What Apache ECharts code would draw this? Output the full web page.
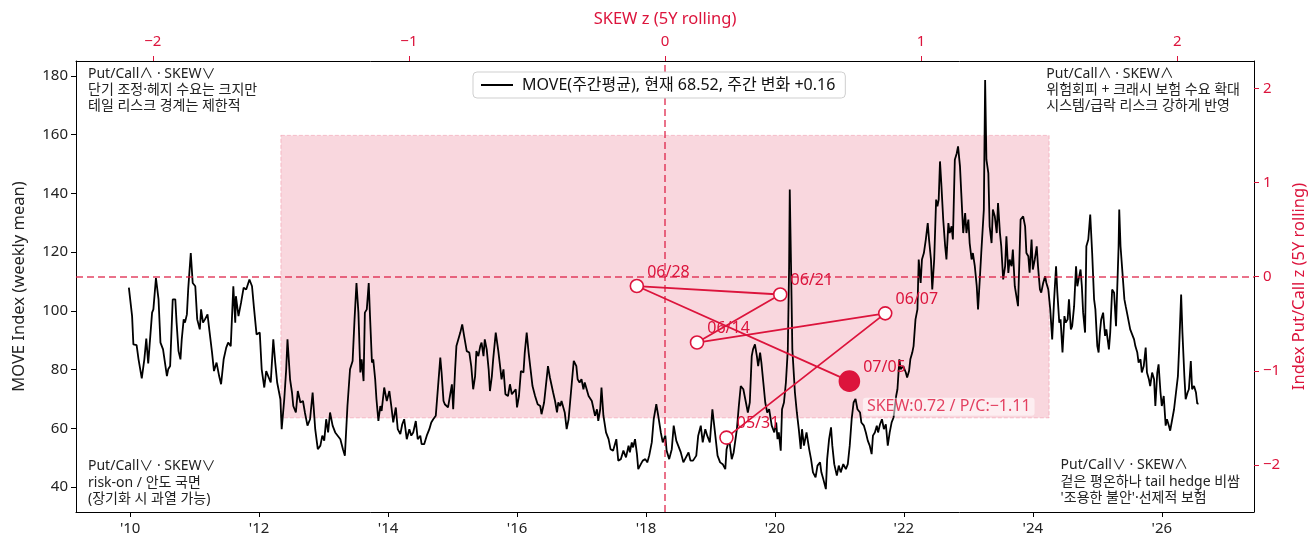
<!DOCTYPE html>
<html>
<head>
<meta charset="utf-8">
<script src="https://cdn.jsdelivr.net/npm/echarts@6.0.0/dist/echarts.min.js"></script>
<style>
  html, body { margin: 0; padding: 0; background: #fff; }
  #chart { width: 1314px; height: 540px; }
</style>
</head>
<body>
<div id="chart"></div>
<script>
// MOVE weekly mean (decimal year / value)
var moveYears = [
  2009.98, 2010.03, 2010.05, 2010.10, 2010.13, 2010.18, 2010.22, 2010.25, 2010.28, 2010.34,
  2010.36, 2010.40, 2010.44, 2010.47, 2010.51, 2010.57, 2010.59, 2010.62, 2010.66, 2010.70,
  2010.72, 2010.75, 2010.78, 2010.80, 2010.83, 2010.85, 2010.88, 2010.90, 2010.94, 2010.97,
  2011.01, 2011.04, 2011.08, 2011.10, 2011.13, 2011.16, 2011.20, 2011.23, 2011.27, 2011.30,
  2011.34, 2011.38, 2011.41, 2011.45, 2011.49, 2011.52, 2011.56, 2011.60, 2011.63, 2011.64,
  2011.68, 2011.72, 2011.76, 2011.80, 2011.85, 2011.89, 2011.92, 2011.96, 2012.01, 2012.04,
  2012.08, 2012.11, 2012.14, 2012.18, 2012.22, 2012.25, 2012.28, 2012.33, 2012.35, 2012.39,
  2012.42, 2012.44, 2012.48, 2012.51, 2012.53, 2012.57, 2012.60, 2012.64, 2012.68, 2012.71,
  2012.75, 2012.79, 2012.83, 2012.87, 2012.91, 2012.95, 2012.98, 2013.01, 2013.04, 2013.07,
  2013.10, 2013.14, 2013.18, 2013.21, 2013.26, 2013.30, 2013.33,
  2013.37, 2013.41, 2013.45, 2013.48, 2013.51, 2013.54, 2013.57, 2013.59, 2013.62, 2013.64,
  2013.67, 2013.70, 2013.72, 2013.75, 2013.77, 2013.80, 2013.82, 2013.85, 2013.88, 2013.90,
  2013.94, 2013.98, 2014.02, 2014.05, 2014.08, 2014.12, 2014.15, 2014.19, 2014.22, 2014.25,
  2014.29, 2014.33, 2014.36, 2014.39, 2014.43, 2014.46, 2014.50, 2014.52, 2014.56, 2014.60,
  2014.64, 2014.67, 2014.70, 2014.74, 2014.77, 2014.81, 2014.83, 2014.86, 2014.88, 2014.93,
  2014.96, 2014.99, 2015.01, 2015.04, 2015.06, 2015.09, 2015.12, 2015.15, 2015.18, 2015.22,
  2015.26, 2015.29, 2015.32, 2015.35, 2015.37, 2015.40, 2015.43, 2015.45, 2015.48, 2015.50,
  2015.53, 2015.56, 2015.58, 2015.61, 2015.63, 2015.67, 2015.71, 2015.74, 2015.76, 2015.79,
  2015.82, 2015.86, 2015.89, 2015.92, 2015.95, 2015.98, 2016.00, 2016.03, 2016.06, 2016.10,
  2016.12, 2016.15, 2016.18, 2016.21, 2016.24, 2016.28, 2016.32, 2016.36, 2016.38, 2016.42,
  2016.44, 2016.48, 2016.51, 2016.54, 2016.56, 2016.59, 2016.62, 2016.64, 2016.67, 2016.69,
  2016.72, 2016.74, 2016.77, 2016.80, 2016.82,
  2016.85, 2016.88, 2016.92, 2016.94, 2016.97, 2017.00, 2017.03, 2017.05, 2017.08, 2017.11,
  2017.13, 2017.16, 2017.18, 2017.21, 2017.24, 2017.26, 2017.29, 2017.31, 2017.34, 2017.38,
  2017.42, 2017.45, 2017.49, 2017.54, 2017.57, 2017.61, 2017.65, 2017.69, 2017.73, 2017.75,
  2017.78, 2017.80, 2017.83, 2017.86, 2017.88, 2017.92, 2017.95, 2017.99, 2018.02, 2018.05,
  2018.09, 2018.12, 2018.16, 2018.19, 2018.23, 2018.26, 2018.30, 2018.32, 2018.36, 2018.40,
  2018.43, 2018.47, 2018.50, 2018.54, 2018.58, 2018.62, 2018.66, 2018.69, 2018.73, 2018.78,
  2018.81, 2018.85, 2018.88, 2018.92, 2018.95, 2018.99, 2019.03, 2019.07, 2019.11, 2019.15,
  2019.19, 2019.23, 2019.25, 2019.29, 2019.33, 2019.36, 2019.41, 2019.44, 2019.47, 2019.51,
  2019.55, 2019.58, 2019.61, 2019.64, 2019.66, 2019.69, 2019.72, 2019.74, 2019.77, 2019.79,
  2019.82, 2019.85, 2019.88, 2019.91, 2019.95, 2019.99, 2020.02, 2020.04, 2020.06, 2020.09,
  2020.11, 2020.14, 2020.17, 2020.20, 2020.22, 2020.23, 2020.25, 2020.27,
  2020.31, 2020.34, 2020.37, 2020.40, 2020.42, 2020.45, 2020.49, 2020.53, 2020.56, 2020.59,
  2020.63, 2020.66, 2020.70, 2020.72, 2020.75, 2020.79, 2020.81, 2020.84, 2020.87, 2020.89,
  2020.92, 2020.96, 2020.99, 2021.02, 2021.06, 2021.10, 2021.13, 2021.16, 2021.19, 2021.22,
  2021.25, 2021.28, 2021.32, 2021.34, 2021.38, 2021.41, 2021.44, 2021.47, 2021.50, 2021.52,
  2021.55, 2021.58, 2021.60, 2021.63, 2021.66, 2021.69, 2021.72, 2021.75, 2021.78, 2021.81,
  2021.84, 2021.88, 2021.90, 2021.93, 2021.95, 2021.99, 2022.03, 2022.05, 2022.08, 2022.10,
  2022.13, 2022.15, 2022.18, 2022.21, 2022.23, 2022.26, 2022.28, 2022.31, 2022.34, 2022.37,
  2022.39, 2022.42, 2022.44, 2022.47, 2022.50, 2022.52, 2022.54, 2022.56, 2022.58, 2022.61,
  2022.64, 2022.66, 2022.69, 2022.71, 2022.74, 2022.76, 2022.79, 2022.82, 2022.84, 2022.87,
  2022.89, 2022.92, 2022.95, 2022.97, 2023.00, 2023.02, 2023.05, 2023.07, 2023.10, 2023.13,
  2023.15, 2023.18, 2023.20, 2023.24, 2023.26, 2023.28, 2023.31, 2023.33, 2023.36, 2023.38,
  2023.41, 2023.44, 2023.46, 2023.49, 2023.51, 2023.54, 2023.57, 2023.59, 2023.62, 2023.64,
  2023.67, 2023.69, 2023.72, 2023.75, 2023.77,
  2023.81, 2023.85, 2023.88, 2023.90, 2023.93, 2023.95, 2023.98, 2024.00, 2024.03, 2024.06,
  2024.08, 2024.11, 2024.13, 2024.16, 2024.19, 2024.21, 2024.24, 2024.27, 2024.30, 2024.33,
  2024.36, 2024.38, 2024.41, 2024.43, 2024.46, 2024.49, 2024.51, 2024.54, 2024.56, 2024.59,
  2024.61, 2024.64, 2024.67, 2024.69, 2024.71, 2024.74, 2024.76, 2024.78, 2024.81, 2024.83,
  2024.86, 2024.89, 2024.92, 2024.95, 2024.97, 2025.00, 2025.02, 2025.04, 2025.06, 2025.09,
  2025.12, 2025.14, 2025.16, 2025.18, 2025.20, 2025.23, 2025.26, 2025.29, 2025.31, 2025.33,
  2025.34, 2025.36, 2025.39, 2025.42, 2025.44, 2025.46, 2025.49, 2025.51, 2025.54, 2025.57,
  2025.59, 2025.62, 2025.64, 2025.67, 2025.69, 2025.72, 2025.75, 2025.77, 2025.80, 2025.82,
  2025.85, 2025.88, 2025.90, 2025.93, 2025.95, 2025.98, 2026.00, 2026.03, 2026.06, 2026.08,
  2026.11, 2026.13, 2026.16, 2026.19, 2026.22, 2026.25, 2026.27, 2026.30, 2026.32, 2026.35,
  2026.37, 2026.40, 2026.42, 2026.45, 2026.47, 2026.50, 2026.53, 2026.55, 2026.57
]
var moveValues = [
  107.9, 98.2, 88.6, 88.3, 83.5, 77.0, 83.5, 90.6, 82.1, 99.4,
  100.5, 111.2, 103.9, 89.2, 86.9, 77.8, 80.1, 81.2, 103.9, 103.9,
  96.0, 86.3, 83.5, 90.3, 97.1, 96.0, 98.8, 107.3, 119.7, 109.5,
  108.4, 97.1, 93.7, 100.5, 96.0, 97.1, 98.8, 93.1, 85.8, 79.5,
  82.4, 77.8, 75.0, 83.5, 87.5, 89.2, 88.0, 108.4, 96.0, 105.0,
  98.2, 102.8, 107.9, 107.3, 110.7, 108.4, 101.1, 92.0, 92.6, 80.1,
  73.9, 79.5, 79.0, 75.6, 90.3, 82.4, 75.6, 69.9, 59.7, 69.9,
  80.1, 90.3, 76.7, 72.2, 67.6, 65.4, 72.7, 68.8, 69.3, 65.4,
  60.9, 63.1, 72.2, 59.7, 52.9, 54.1, 57.5, 55.8, 63.1, 58.6,
  65.4, 60.9, 58.6, 58.0, 56.3, 52.9, 50.7,
  67.6, 80.1, 82.9, 97.1, 109.5, 99.4, 79.0, 83.5, 76.1, 99.4,
  100.5, 109.5, 98.2, 82.4, 83.5, 76.7, 69.9, 62.5, 67.6, 65.9,
  73.9, 69.3, 72.7, 67.6, 62.0, 67.1, 59.7, 58.0, 61.4, 63.1,
  56.3, 59.7, 57.5, 58.6, 62.5, 56.3, 57.5, 54.6, 54.6, 57.5,
  59.7, 62.0, 63.1, 64.3, 64.3, 84.1, 79.0, 69.3, 68.2, 67.1,
  66.5, 75.0, 66.5, 80.1, 88.0, 88.0, 92.6, 95.4, 91.4, 86.3,
  85.8, 81.2, 73.3, 77.8, 86.3, 84.6, 88.0, 89.2, 84.6, 90.3,
  86.9, 80.1, 72.7, 77.8, 83.5, 92.6, 86.3, 80.7, 76.7, 80.1,
  71.6, 71.0, 75.0, 71.6, 72.2, 73.3, 67.1, 71.0, 79.5, 79.0,
  85.8, 92.6, 85.8, 80.1, 74.4, 71.0, 68.2, 67.6, 64.8, 68.8,
  69.3, 81.2, 77.3, 76.7, 72.2, 69.3, 65.4, 68.8, 67.6, 69.3,
  69.9, 65.4, 59.7, 63.1, 63.7,
  75.6, 83.0, 81.2, 76.7, 75.6, 76.7, 73.3, 75.6, 73.3, 71.0,
  70.5, 69.3, 68.8, 64.3, 66.5, 62.5, 66.5, 73.9, 64.3, 58.6,
  56.3, 52.9, 52.4, 56.3, 49.0, 49.5, 52.4, 50.1, 54.1, 51.8,
  55.2, 53.5, 56.3, 51.2, 46.1, 47.8, 49.0, 49.5, 48.4, 50.7,
  55.2, 63.1, 68.2, 64.3, 58.6, 55.2, 57.5, 52.4, 49.5, 52.9,
  60.9, 55.8, 54.1, 51.8, 48.4, 50.1, 51.8, 49.0, 49.0, 50.7,
  57.5, 60.9, 55.2, 59.7, 57.5, 55.2, 66.5, 58.6, 50.7, 48.4,
  47.8, 46.1, 52.9, 56.3, 49.5, 51.8, 59.7, 67.6, 74.4, 73.3,
  68.8, 65.4, 68.8, 84.6, 86.9, 88.6, 84.6, 81.2, 85.8, 82.4,
  75.6, 68.8, 65.4, 66.5, 60.9, 58.6, 62.0, 56.3, 58.6, 52.4,
  66.5, 68.8, 75.6, 86.9, 115.2, 141.3, 115.2, 86.9,
  72.2, 65.4, 59.7, 53.0, 59.7, 54.1, 58.6, 53.0, 49.5, 45.0,
  43.3, 47.3, 48.4, 45.0, 42.7, 39.3, 49.5, 56.3, 60.3, 54.1,
  47.8, 43.9, 47.3, 45.0, 47.8, 46.1, 47.8, 54.1, 63.1, 68.8,
  70.0, 66.5, 65.4, 62.0, 60.9, 58.6, 55.8, 54.1, 51.2, 57.5,
  58.6, 60.9, 58.6, 61.4, 63.1, 59.7, 61.4, 54.1, 58.6, 62.0,
  63.7, 71.0, 73.3, 83.5, 80.1, 81.2, 79.0, 77.3, 79.5, 83.5,
  85.8, 88.0, 97.1, 100.5, 117.5, 109.5, 117.5, 119.7, 124.3, 129.9,
  124.3, 117.5, 107.3, 117.5, 137.9, 135.6, 137.9, 150.9, 143.5, 131.1,
  122.0, 117.5, 129.9, 126.5, 128.8, 124.3, 151.5, 153.7, 156.0, 149.2,
  140.1, 126.5, 133.3, 126.5, 131.1, 123.1, 117.5, 119.7, 115.2, 108.4,
  100.5, 111.8, 119.7, 134.5, 178.6, 151.5, 146.9, 128.8, 123.1, 134.5,
  132.2, 126.5, 136.7, 126.5, 122.0, 110.7, 115.2, 125.4, 112.9, 117.5,
  115.2, 120.9, 108.4, 108.4, 101.6,
  131.1, 132.2, 128.8, 119.7, 118.6, 113.0, 124.3, 114.1, 117.5, 122.0,
  115.2, 107.3, 106.2, 109.5, 111.8, 109.5, 107.3, 100.5, 90.3, 103.9,
  115.2, 106.2, 96.0, 97.1, 85.8, 98.2, 96.0, 97.1, 103.9, 93.7,
  94.8, 101.6, 115.2, 108.4, 110.7, 114.1, 108.4, 99.4, 92.6, 122.0,
  124.3, 132.8, 119.7, 103.9, 100.5, 88.0, 85.8, 92.6, 97.1, 99.4,
  91.5, 93.7, 90.3, 86.9, 92.6, 107.3, 106.2, 94.8, 94.8, 122.0,
  134.5, 122.0, 113.0, 103.9, 101.6, 99.4, 96.0, 93.7, 93.7, 90.3,
  88.0, 85.8, 82.4, 83.5, 79.0, 81.2, 87.5, 79.0, 76.7, 74.4,
  79.0, 76.7, 67.6, 79.0, 81.8, 72.2, 67.6, 71.0, 60.9, 63.1,
  60.9, 59.2, 58.6, 66.5, 67.1, 77.8, 88.0, 105.6, 92.6, 77.8,
  69.9, 72.2, 73.3, 82.9, 73.3, 74.4, 72.2, 68.36, 68.52
]

// recent weekly path in (SKEW z, Put/Call z)
var pathDates = ['05/31', '06/07', '06/14', '06/21', '06/28', '07/05']
var skewZ = [0.24, 0.86, 0.125, 0.45, -0.11, 0.72]
var pcZ = [-1.71, -0.39, -0.70, -0.19, -0.10, -1.11]

var zoneZ = 1.5
var yearTicks = [2010, 2012, 2014, 2016, 2018, 2020, 2022, 2024, 2026]
var moveTicks = [40, 60, 80, 100, 120, 140, 160, 180]
var zTicks = [-2, -1, 0, 1, 2]

var FONT = '"Noto Sans", "Noto Sans CJK KR", sans-serif'
var RED = '#dc143c'

var n = moveValues.length
var moveName = 'MOVE(주간평균), 현재 ' + moveValues[n - 1].toFixed(2) +
  ', 주간 변화 +' + (moveValues[n - 1] - moveValues[n - 2]).toFixed(2)

function signed(v) {
  return v < 0 ? '\u2212' + Math.abs(v) : String(v)
}
function signed2(v) {
  return (v < 0 ? '\u2212' : '') + Math.abs(v).toFixed(2)
}

var last = pathDates.length - 1
var pathData = pathDates.map(function (d, i) {
  var item = { name: d, value: [skewZ[i], pcZ[i]] }
  if (i === last) {
    item.symbolSize = 20
    item.itemStyle = { color: RED, borderColor: RED }
  }
  return item
})

var chart = echarts.init(document.getElementById('chart'))

var noteFont = '14px ' + FONT
var option = {
  animation: false,
  textStyle: { fontFamily: FONT },
  grid: { left: 76, right: 60, top: 61, bottom: 28, outerBoundsMode: 'none', containLabel: false },
  legend: {
    data: [{ name: moveName, icon: 'rect' }],
    left: 473,
    top: 72,
    z: 20,
    padding: [5, 10, 5, 8],
    itemWidth: 32,
    itemHeight: 2,
    itemGap: 10,
    backgroundColor: '#fff',
    borderColor: '#cfcfcf',
    borderWidth: 1,
    borderRadius: 4,
    textStyle: { fontSize: 16, color: '#111', fontFamily: FONT, padding: [0, 0, 0, 4] }
  },
  xAxis: [
    {
      type: 'value',
      position: 'bottom',
      min: 2009.16,
      max: 2027.43,
      axisLine: { show: true, onZero: false, lineStyle: { color: '#000', width: 1 } },
      axisTick: { show: true, customValues: yearTicks, length: 5, lineStyle: { color: '#000' } },
      axisLabel: {
        customValues: yearTicks,
        formatter: function (v) { return "'" + String(v).slice(2) },
        color: '#222', fontSize: 15, margin: 9
      },
      splitLine: { show: false }
    },
    {
      type: 'value',
      position: 'top',
      min: -2.3,
      max: 2.3,
      name: 'SKEW z (5Y rolling)',
      nameLocation: 'middle',
      nameGap: 33,
      nameTextStyle: { color: RED, fontSize: 16.5 },
      axisLine: { show: true, onZero: false, lineStyle: { color: '#000', width: 1 } },
      axisTick: { show: true, customValues: zTicks, length: 5, lineStyle: { color: RED } },
      axisLabel: { customValues: zTicks, formatter: signed, color: RED, fontSize: 15, margin: 12 },
      splitLine: { show: false }
    }
  ],
  yAxis: [
    {
      type: 'value',
      position: 'left',
      min: 31.5,
      max: 185.1,
      name: 'MOVE Index (weekly mean)',
      nameLocation: 'middle',
      nameRotate: 90,
      nameGap: 48,
      nameTextStyle: { color: '#222', fontSize: 16.5 },
      axisLine: { show: true, onZero: false, lineStyle: { color: '#000', width: 1 } },
      axisTick: { show: true, customValues: moveTicks, length: 5, lineStyle: { color: '#000' } },
      axisLabel: { customValues: moveTicks, color: '#222', fontSize: 15, margin: 8 },
      splitLine: { show: false }
    },
    {
      type: 'value',
      position: 'right',
      min: -2.5,
      max: 2.29,
      name: 'Index Put/Call z (5Y rolling)',
      nameLocation: 'middle',
      nameRotate: 90,
      nameGap: 34,
      nameTextStyle: { color: RED, fontSize: 16.5 },
      axisLine: { show: true, onZero: false, lineStyle: { color: '#000', width: 1 } },
      axisTick: { show: true, customValues: zTicks, length: 5, lineStyle: { color: RED } },
      axisLabel: { customValues: zTicks, formatter: signed, color: RED, fontSize: 15, margin: 9 },
      splitLine: { show: false }
    }
  ],
  series: [
    {
      // shaded zone and zero lines in z-space
      type: 'scatter',
      xAxisIndex: 1,
      yAxisIndex: 1,
      data: [],
      silent: true,
      z: 1,
      markArea: {
        silent: true,
        itemStyle: {
          color: 'rgba(220,20,60,0.17)',
          borderColor: 'rgba(220,20,60,0.22)',
          borderWidth: 1,
          borderType: 'dashed'
        },
        data: [[{ xAxis: -zoneZ, yAxis: zoneZ }, { xAxis: zoneZ, yAxis: -zoneZ }]]
      },
      markLine: {
        silent: true,
        symbol: ['none', 'none'],
        label: { show: false },
        lineStyle: { color: 'rgba(220,20,60,0.8)', type: [7, 4], width: 1.5 },
        data: [{ xAxis: 0 }, { yAxis: 0 }]
      }
    },
    {
      name: moveName,
      type: 'line',
      xAxisIndex: 0,
      yAxisIndex: 0,
      z: 3,
      symbol: 'none',
      data: moveYears.map(function (y, i) { return [y, moveValues[i]] }),
      lineStyle: { color: '#000', width: 1.8 },
      itemStyle: { color: '#000' }
    },
    {
      type: 'line',
      xAxisIndex: 1,
      yAxisIndex: 1,
      z: 5,
      data: pathData,
      symbol: 'circle',
      symbolSize: 13,
      showAllSymbol: true,
      lineStyle: { color: RED, width: 1.8 },
      itemStyle: { color: '#fff', borderColor: RED, borderWidth: 1.6 },
      label: {
        show: true,
        formatter: '{b}',
        position: 'right',
        distance: 3,
        offset: [0, -14],
        color: RED,
        fontSize: 16,
        fontFamily: FONT
      }
    },
    {
      type: 'scatter',
      xAxisIndex: 1,
      yAxisIndex: 1,
      z: 6,
      silent: true,
      symbolSize: 1,
      itemStyle: { color: 'rgba(0,0,0,0)' },
      data: [[skewZ[last], pcZ[last]]],
      label: {
        show: true,
        position: [14, 26],
        align: 'left',
        verticalAlign: 'middle',
        formatter: 'SKEW:' + signed2(skewZ[last]) + ' / P/C:' + signed2(pcZ[last]),
        color: RED,
        fontSize: 16,
        fontFamily: FONT,
        backgroundColor: 'rgba(255,255,255,0.7)',
        padding: [1, 4],
        borderRadius: 3
      }
    }
  ],
  graphic: [
    {
      type: 'text', left: 88, top: 66, z: 10,
      style: { text: 'Put/Call∧ · SKEW∨\n단기 조정·헤지 수요는 크지만\n테일 리스크 경계는 제한적', font: noteFont, fill: '#222', lineHeight: 16 }
    },
    {
      type: 'text', right: 74, top: 66, z: 10,
      style: { text: 'Put/Call∧ · SKEW∧\n위험회피 + 크래시 보험 수요 확대\n시스템/급락 리스크 강하게 반영', font: noteFont, fill: '#222', lineHeight: 16, align: 'right' }
    },
    {
      type: 'text', left: 88, top: 458, z: 10,
      style: { text: 'Put/Call∨ · SKEW∨\nrisk-on / 안도 국면\n(장기화 시 과열 가능)', font: noteFont, fill: '#222', lineHeight: 16.5 }
    },
    {
      type: 'text', right: 74, top: 457, z: 10,
      style: { text: 'Put/Call∨ · SKEW∧\n겉은 평온하나 tail hedge 비쌈\n\'조용한 불안\'·선제적 보험', font: noteFont, fill: '#222', lineHeight: 16.5, align: 'right' }
    }
  ]
}

chart.setOption(option, true)
</script>
</body>
</html>
